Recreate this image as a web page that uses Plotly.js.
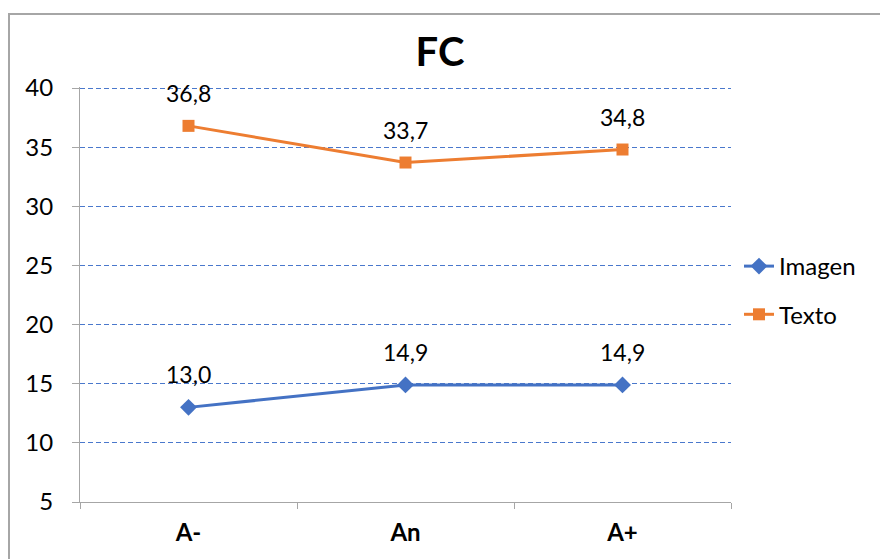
<!DOCTYPE html>
<html>
<head>
<meta charset="utf-8">
<script src="https://cdn.plot.ly/plotly-3.0.1.min.js"></script>
<style>html,body{margin:0;padding:0;background:#fff;overflow:hidden}#chart{width:880px;height:559px}</style>
</head>
<body>
<div id="chart"></div>
<script>
const categories = ["A-", "An", "A+"];
const imagenValues = [13.0, 14.9, 14.9];
const textoValues = [36.8, 33.7, 34.8];
const yTicks = [5, 10, 15, 20, 25, 30, 35, 40];

const FONT = "Lato, 'Open Sans', sans-serif";
const BLUE = "#4472C4";
const ORANGE = "#ED7D31";

const fmt = v => v.toFixed(1).replace(".", ",");

const traces = [
  {
    x: categories, y: imagenValues, name: "Imagen", type: "scatter", mode: "lines+markers",
    legendgroup: "g1",
    line: {color: BLUE, width: 3}, marker: {symbol: "diamond", size: 13, color: BLUE}
  },
  {
    x: categories, y: textoValues, name: "Texto", type: "scatter", mode: "lines+markers",
    legendgroup: "g2",
    line: {color: ORANGE, width: 3}, marker: {symbol: "square", size: 12, color: ORANGE}
  }
];

const annotations = [];
[imagenValues, textoValues].forEach(arr => {
  arr.forEach((v, i) => {
    annotations.push({
      x: categories[i], y: v, xref: "x", yref: "y", text: fmt(v), showarrow: false,
      yshift: 33, yanchor: "middle", font: {family: FONT, size: 23, color: "#000"}
    });
  });
});

const layout = {
  width: 880, height: 559,
  margin: {l: 80, r: 149, t: 87, b: 57},
  paper_bgcolor: "#fff", plot_bgcolor: "#fff",
  font: {family: FONT, size: 24, color: "#000"},
  title: {text: "<b>FC</b>", font: {family: FONT, size: 40, color: "#000"},
          x: 0.5, xref: "container", y: 1 - 52/559, yref: "container", yanchor: "middle"},
  xaxis: {
    type: "category", range: [-0.5, 2.5], tickson: "boundaries",
    ticks: "outside", ticklen: 6, tickcolor: "#A6A6A6", tickwidth: 1,
    showline: true, linecolor: "#A6A6A6", linewidth: 1,
    showgrid: false, zeroline: false,
    tickfont: {family: FONT, size: 24, color: "#000", weight: "bold"},
    ticklabelstandoff: 9, fixedrange: true
  },
  yaxis: {
    range: [5, 40.085], tickvals: yTicks, ticktext: yTicks.map(String),
    ticks: "outside", ticklen: 7, tickcolor: "#A6A6A6", tickwidth: 1,
    showline: true, linecolor: "#A6A6A6", linewidth: 1,
    showgrid: true, gridcolor: "#4A78CC", griddash: "5px,3px", gridwidth: 1,
    zeroline: false,
    tickfont: {family: FONT, size: 24, color: "#000"},
    ticklabelstandoff: 14, fixedrange: true
  },
  legend: {
    x: 739/880, xref: "container", y: 1 - 244/559, yref: "container",
    xanchor: "left", yanchor: "top", orientation: "v",
    traceorder: "grouped", tracegroupgap: 14,
    font: {family: FONT, size: 24, color: "#000"},
    itemwidth: 30, bgcolor: "rgba(0,0,0,0)"
  },
  showlegend: true,
  annotations: annotations,
  shapes: [{
    type: "rect", xref: "paper", yref: "paper",
    x0: (9 - 80) / 651, x1: (900 - 80) / 651,
    y0: (502 - 580) / 415, y1: (502 - 14) / 415,
    line: {color: "#A6A6A6", width: 2}, fillcolor: "rgba(0,0,0,0)", layer: "above"
  }]
};

Plotly.newPlot("chart", traces, layout, {staticPlot: true, displayModeBar: false});
</script>
</body>
</html>
